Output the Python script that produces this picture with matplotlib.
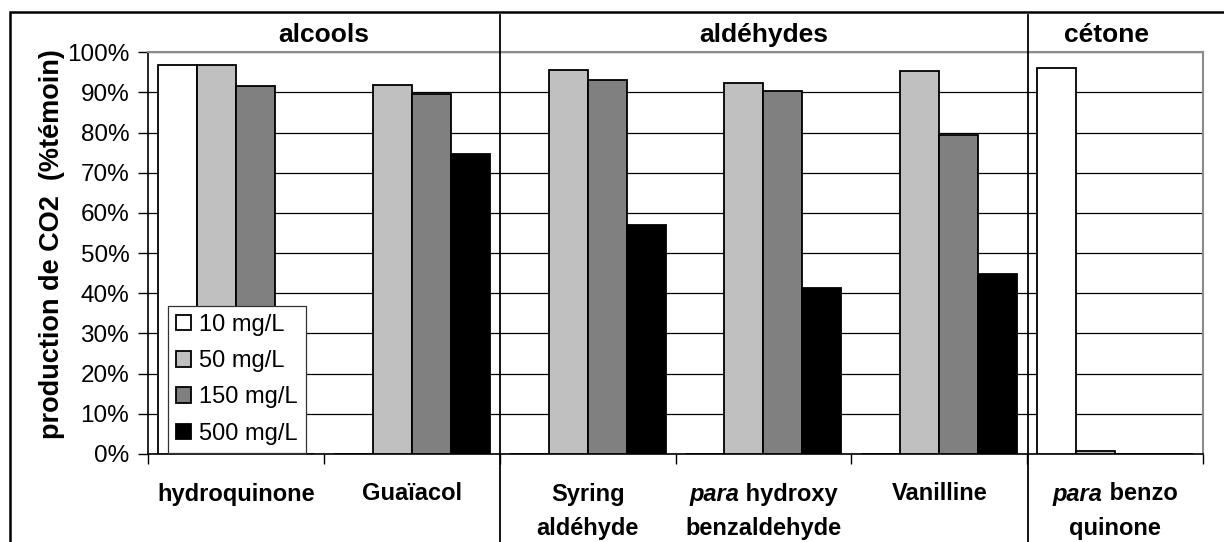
import numpy as np
import matplotlib
matplotlib.use("Agg")
import matplotlib.pyplot as plt
from matplotlib.lines import Line2D
from matplotlib.patches import Rectangle

# valeurs (% du témoin)
categories = ["hydroquinone", "Guaïacol", "Syring aldéhyde",
              "para hydroxy benzaldehyde", "Vanilline", "para benzo quinone"]
doses = ["10 mg/L", "50 mg/L", "150 mg/L", "500 mg/L"]
v10 = [96.8, 0, 0, 0, 0, 96.0]
v50 = [96.8, 91.9, 95.6, 92.3, 95.3, 0.8]
v150 = [91.5, 89.6, 93.1, 90.4, 79.3, 0]
v500 = [0, 74.6, 57.0, 41.3, 44.8, 0]
groups = ["alcools", "aldéhydes", "cétone"]
group_x = [1.0, 3.5, 5.45]
yticks = [0, 10, 20, 30, 40, 50, 60, 70, 80, 90, 100]

# (partie italique, partie droite) par ligne de libellé
xlabels = [
    [("", "hydroquinone")],
    [("", "Guaïacol")],
    [("", "Syring"), ("", "aldéhyde")],
    [("para", " hydroxy"), ("", "benzaldehyde")],
    [("", "Vanilline")],
    [("para", " benzo"), ("", "quinone")],
]

COLORS = ["#ffffff", "#c0c0c0", "#808080", "#000000"]
plt.rcParams["font.family"] = ["Liberation Sans", "DejaVu Sans"]

fig = plt.figure(figsize=(12.24, 5.42), dpi=100)
W, H = 1224, 542
ax = fig.add_axes([148 / W, 1 - 454 / H, (1203 - 148) / W, (454 - 52.3) / H])

x = np.arange(len(categories)) + 0.5
bw = 0.222
for k, vals in enumerate([v10, v50, v150, v500]):
    ax.bar(x + (k - 1.5) * bw, vals, width=bw, color=COLORS[k],
           edgecolor="black", linewidth=1.3, zorder=3, label=doses[k])

ax.set_xlim(0, len(categories))
ax.set_ylim(0, 100)
ax.set_yticks(yticks)
ax.set_yticklabels([f"{t}%" for t in yticks], fontsize=17.5)
ax.set_xticks(np.arange(len(categories) + 1))
ax.set_xticklabels([])
ax.tick_params(axis="y", direction="out", length=7, width=1, pad=6.5)
ax.tick_params(axis="x", direction="out", length=7, width=1)
ax.yaxis.grid(True, color="black", linewidth=0.9, zorder=0)
ax.set_axisbelow(True)
for s in ["left", "bottom"]:
    ax.spines[s].set_color("black")
    ax.spines[s].set_linewidth(1.2)
for s in ["top", "right"]:
    ax.spines[s].set_color("#8c8c8c")
    ax.spines[s].set_linewidth(1.5)

ax.set_ylabel("production de CO2  (%témoin)", fontsize=19.5, fontweight="bold")
ax.yaxis.set_label_coords(-0.079, 0.523)

leg = ax.legend(loc="lower left", bbox_to_anchor=(0.019, 0.003), borderaxespad=0,
                fontsize=17, handlelength=0.62, handleheight=0.62,
                labelspacing=0.6, handletextpad=0.35, borderpad=0.35,
                fancybox=False, framealpha=1, edgecolor="#333333")
leg.get_frame().set_linewidth(0.9)
leg.set_zorder(5)

# libellés de catégories (gras, "para" en italique)
fig.canvas.draw()
rend = fig.canvas.get_renderer()
line_y = [494, 528]
for i, lines in enumerate(xlabels):
    xc = ax.transData.transform((x[i], 0))[0]
    for j, (it, rest) in enumerate(lines):
        y = 1 - line_y[j] / H
        parts = []
        if it:
            parts.append(fig.text(0, y, it, fontsize=17, fontweight="bold",
                                  fontstyle="italic", va="center", ha="left"))
        parts.append(fig.text(0, y, rest, fontsize=17, fontweight="bold",
                              va="center", ha="left"))
        widths = [p.get_window_extent(rend).width for p in parts]
        x0 = xc - sum(widths) / 2
        for p, w in zip(parts, widths):
            p.set_x(x0 / W)
            x0 += w

# titres de groupes
for g, gx in zip(groups, group_x):
    xc = ax.transData.transform((gx, 0))[0]
    fig.text(xc / W, 1 - 35 / H, g, fontsize=19, fontweight="bold",
             ha="center", va="center")

# séparateurs verticaux et cadre
for sx in [500, 1028]:
    fig.add_artist(Line2D([sx / W, sx / W], [1 - 15 / H, 0], color="black",
                          linewidth=1.3))
fig.add_artist(Rectangle((10 / W, -0.1), 1.2, 1 - 12 / H + 0.1, fill=False,
                         edgecolor="black", linewidth=1.8,
                         transform=fig.transFigure))

fig.savefig("out.png", dpi=100)
